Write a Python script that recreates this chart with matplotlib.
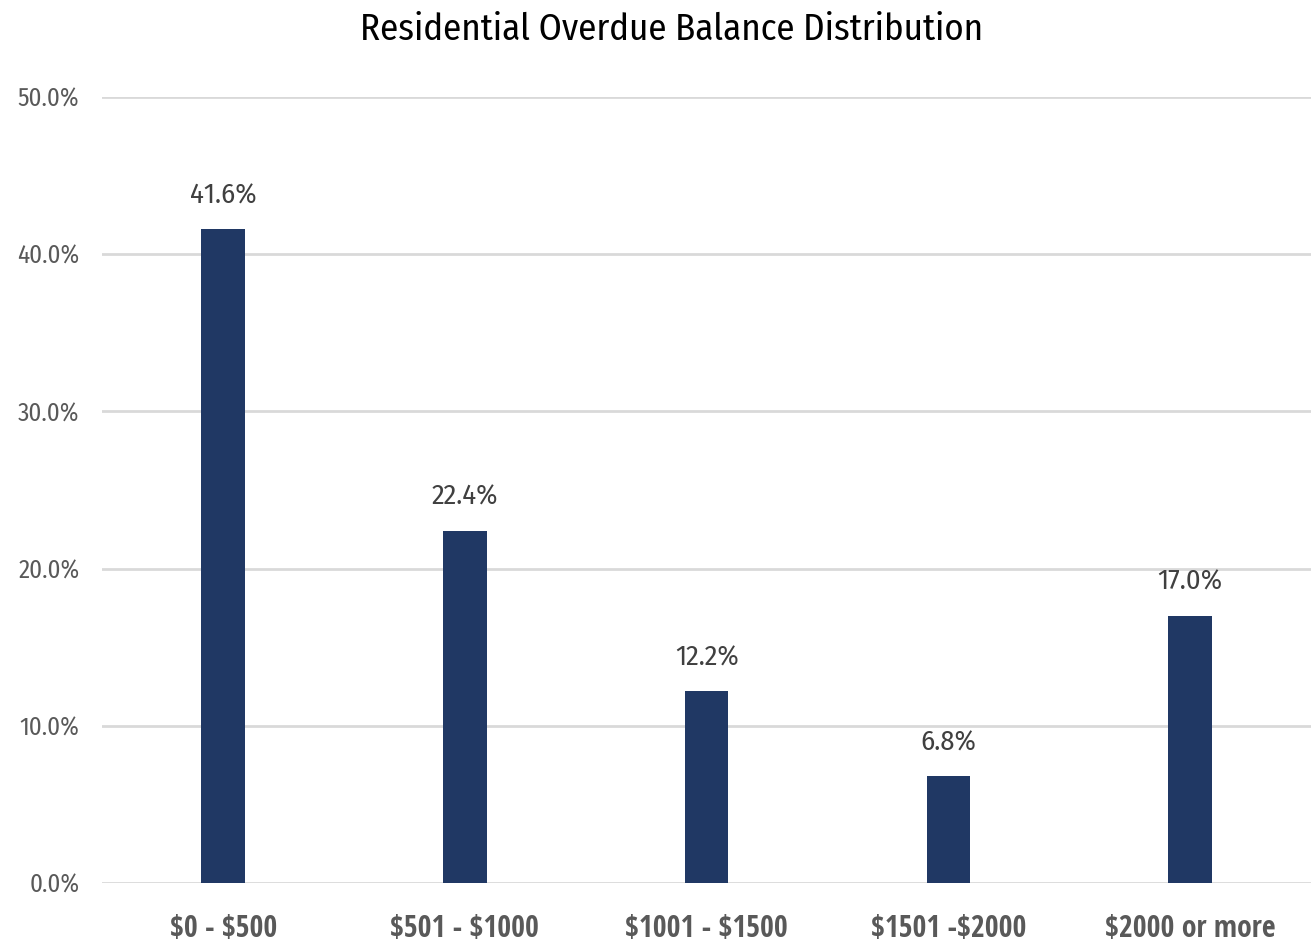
import numpy as np
import matplotlib
matplotlib.use('Agg')
import matplotlib.pyplot as plt
from matplotlib.ticker import FuncFormatter

# donnees du graphique
categories = ['\\$0 - \\$500', '\\$501 - \\$1000', '\\$1001 - \\$1500', '\\$1501 -\\$2000', '\\$2000 or more']
values = [41.6, 22.4, 12.2, 6.8, 17.0]
yticks = [0, 10, 20, 30, 40, 50]

plt.rcParams['font.family'] = ['Fira Sans Condensed', 'Open Sans', 'DejaVu Sans']
bold_font = ['Open Sans Condensed', 'Fira Sans Condensed', 'DejaVu Sans']

fig = plt.figure(figsize=(13.11, 9.47), dpi=100)
ax = fig.add_axes([0.078, 0.0676, 0.922, 0.83])

x = np.arange(len(categories))
bars = ax.bar(x, values, width=0.18, color='#203864', zorder=3)

for xi, v in zip(x, values):
    ax.text(xi, v + 1.3, '%.1f%%' % v, ha='center', va='bottom',
            fontsize=20.5, color='#404040')

ax.set_xlim(-0.5, len(categories) - 0.5)
ax.set_ylim(0, 50)
ax.set_yticks(yticks)
ax.yaxis.set_major_formatter(FuncFormatter(lambda v, p: '%.1f%%' % v))
ax.set_xticks(x)
ax.set_xticklabels(categories, fontsize=21.5, fontweight='bold', color='#595959',
                   family=bold_font)
ax.tick_params(axis='y', labelsize=18, labelcolor='#595959', length=0, pad=16.5)
ax.tick_params(axis='x', length=0, pad=22)

ax.grid(axis='y', color='#d9d9d9', linewidth=2, zorder=0)
for s in ax.spines.values():
    s.set_visible(False)

fig.suptitle('Residential Overdue Balance Distribution', x=0.5126, y=0.988, va='top',
             fontsize=26.5, color='black')

plt.savefig('out.png', dpi=100)
